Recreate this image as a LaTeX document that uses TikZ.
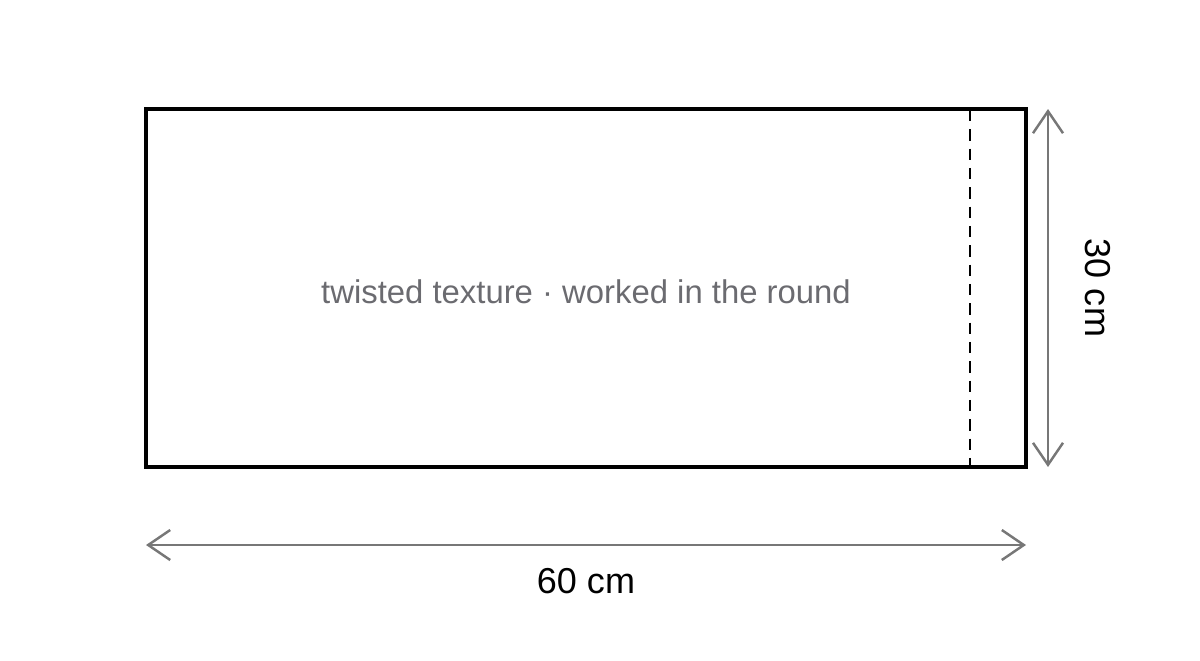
\documentclass[tikz,border=0pt]{standalone}
\usepackage{fontspec}
\setmainfont{Liberation Sans}
\usetikzlibrary{arrows.meta}
\definecolor{notegray}{HTML}{6B6B70}
\definecolor{dimgray}{HTML}{777777}

\begin{document}
\begin{tikzpicture}[x=0.02cm,y=-0.02cm,>={Straight Barb[length=0.44cm,width=0.6cm]},
    dim/.style={draw=dimgray,line width=1.4pt,<->},
    dimlabel/.style={font=\fontsize{20.5pt}{24pt}\selectfont}]
        \useasboundingbox (0,0) rectangle (1200,660);
        \coordinate (nw) at (146,109);
        \coordinate (se) at (1026,467);
        \draw[line width=2pt] (nw) rectangle (se);
        \draw[line width=1.3pt,dash pattern=on 6.5pt off 4.5pt] (970,110)--(970,467);
        \node[text=notegray,font=\fontsize{18.7pt}{22pt}\selectfont] (title) at (586,292){twisted texture \textperiodcentered{} worked in the round};
        % dimensions
        \coordinate (wl) at (146,545);
        \coordinate (wr) at (1026,545);
        \coordinate (ht) at (1048,109);
        \coordinate (hb) at (1048,467);
        \draw[dim] (wl)--(wr);
        \draw[dim] (ht)--(hb);
        \node[dimlabel] (width) at (586,581){60 cm};
        \node[dimlabel,rotate=-90] (height) at (1098,288){30 cm};
    \end{tikzpicture}
\end{document}
